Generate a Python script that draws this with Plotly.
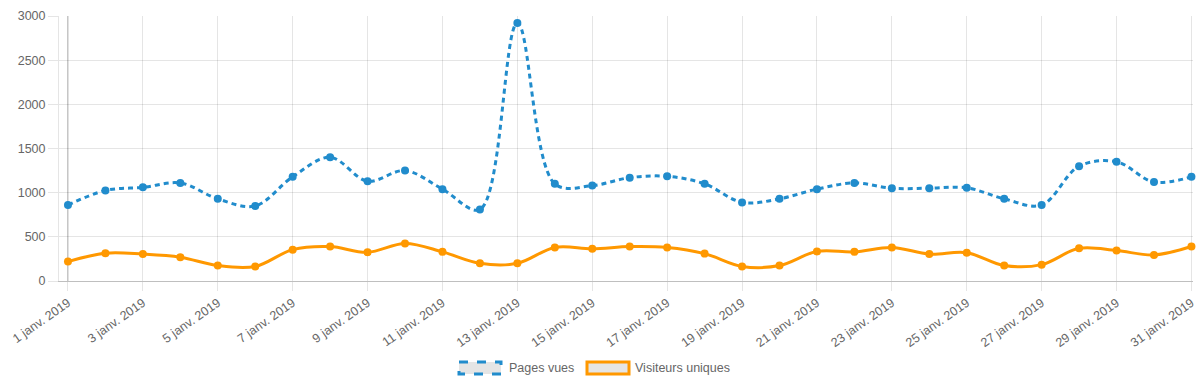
import plotly.graph_objects as go

# ---- data ----
dates = ["2019-01-%02d" % d for d in range(1, 32)]
pages_vues = [860, 1025, 1060, 1110, 930, 850, 1180, 1400, 1130, 1250, 1040, 810, 2920,
              1100, 1080, 1170, 1185, 1100, 890, 930, 1040, 1110, 1050, 1050, 1055, 930,
              860, 1300, 1350, 1120, 1180]
visiteurs_uniques = [220, 315, 305, 270, 175, 165, 355, 390, 325, 425, 330, 200, 200,
                     380, 365, 390, 380, 310, 165, 175, 335, 330, 380, 305, 320, 175,
                     185, 370, 345, 295, 390]
tick_dates = dates[::2]
tick_labels = ["1 janv. 2019", "3 janv. 2019", "5 janv. 2019", "7 janv. 2019",
               "9 janv. 2019", "11 janv. 2019", "13 janv. 2019", "15 janv. 2019",
               "17 janv. 2019", "19 janv. 2019", "21 janv. 2019", "23 janv. 2019",
               "25 janv. 2019", "27 janv. 2019", "29 janv. 2019", "31 janv. 2019"]
y_ticks = [0, 500, 1000, 1500, 2000, 2500, 3000]
series_names = ["Pages vues", "Visiteurs uniques"]

BLUE = "rgb(33,140,204)"
ORANGE = "rgb(255,152,0)"
GRID = "rgba(0,0,0,0.1)"
TXT = "#666666"
FONT = "Liberation Sans, Arial, sans-serif"
FS = 12.5

W, H = 1200, 380
L, R, T, B = 59, 7, 16, 99

fig = go.Figure()
fig.add_trace(go.Scatter(
    x=dates, y=pages_vues, name=series_names[0], mode="lines+markers",
    line=dict(color=BLUE, width=3, dash="5px,4px", shape="spline", smoothing=1.0),
    marker=dict(color=BLUE, size=8), showlegend=False, cliponaxis=False))
fig.add_trace(go.Scatter(
    x=dates, y=visiteurs_uniques, name=series_names[1], mode="lines+markers",
    line=dict(color=ORANGE, width=3, shape="spline", smoothing=1.0),
    marker=dict(color=ORANGE, size=8), showlegend=False, cliponaxis=False))

# darker first vertical grid line (chart.js zero line style)
fig.add_shape(type="line", xref="x", yref="paper", x0=dates[0], x1=dates[0],
              y0=0, y1=1, line=dict(color="rgba(0,0,0,0.25)", width=1), layer="below")

# manual legend (boxes like Chart.js)
pw = W - L - R
ph = H - T - B
def px_x(p):
    return (p - L) / pw
def px_y(p):
    return (H - B - p) / ph

legend_items = [
    (459, BLUE, "dash", series_names[0], 507),
    (587, ORANGE, "solid", series_names[1], 633),
]
for x0, col, dash, label, tx in legend_items:
    fig.add_shape(type="rect", xref="paper", yref="paper",
                  x0=px_x(x0), x1=px_x(x0 + 42), y0=px_y(362), y1=px_y(374),
                  fillcolor="rgba(0,0,0,0.1)",
                  line=dict(color=col, width=3, dash=dash))
    fig.add_annotation(xref="paper", yref="paper", x=px_x(tx), y=px_y(368),
                       text=label, showarrow=False, xanchor="left", yanchor="middle",
                       font=dict(family=FONT, size=FS, color=TXT))

fig.update_layout(
    width=W, height=H,
    margin=dict(l=L, r=R, t=T, b=B, autoexpand=False),
    paper_bgcolor="white", plot_bgcolor="white",
    font=dict(family=FONT, size=FS, color=TXT),
    showlegend=False,
)
fig.update_xaxes(
    type="date", automargin=False,
    range=["2018-12-31 18:15", "2019-01-31 01:00"],
    tickvals=tick_dates, ticktext=tick_labels, tickangle=-35,
    showgrid=True, gridcolor=GRID, gridwidth=1,
    ticks="outside", ticklen=9, tickcolor=GRID,
    showline=True, linecolor="rgba(0,0,0,0.25)", linewidth=1,
    zeroline=False, tickfont=dict(size=FS, color=TXT),
)
fig.update_yaxes(
    range=[0, 3000], tickvals=y_ticks, automargin=False,
    showgrid=True, gridcolor=GRID, gridwidth=1,
    ticks="outside", ticklen=10, tickcolor=GRID,
    showline=True, linecolor=GRID, linewidth=1,
    zeroline=False, tickfont=dict(size=FS, color=TXT),
)

fig.write_html(
    "out.html",
    config={"displayModeBar": False},
    post_script="document.body.style.margin='0px';document.body.style.overflow='hidden';",
)
